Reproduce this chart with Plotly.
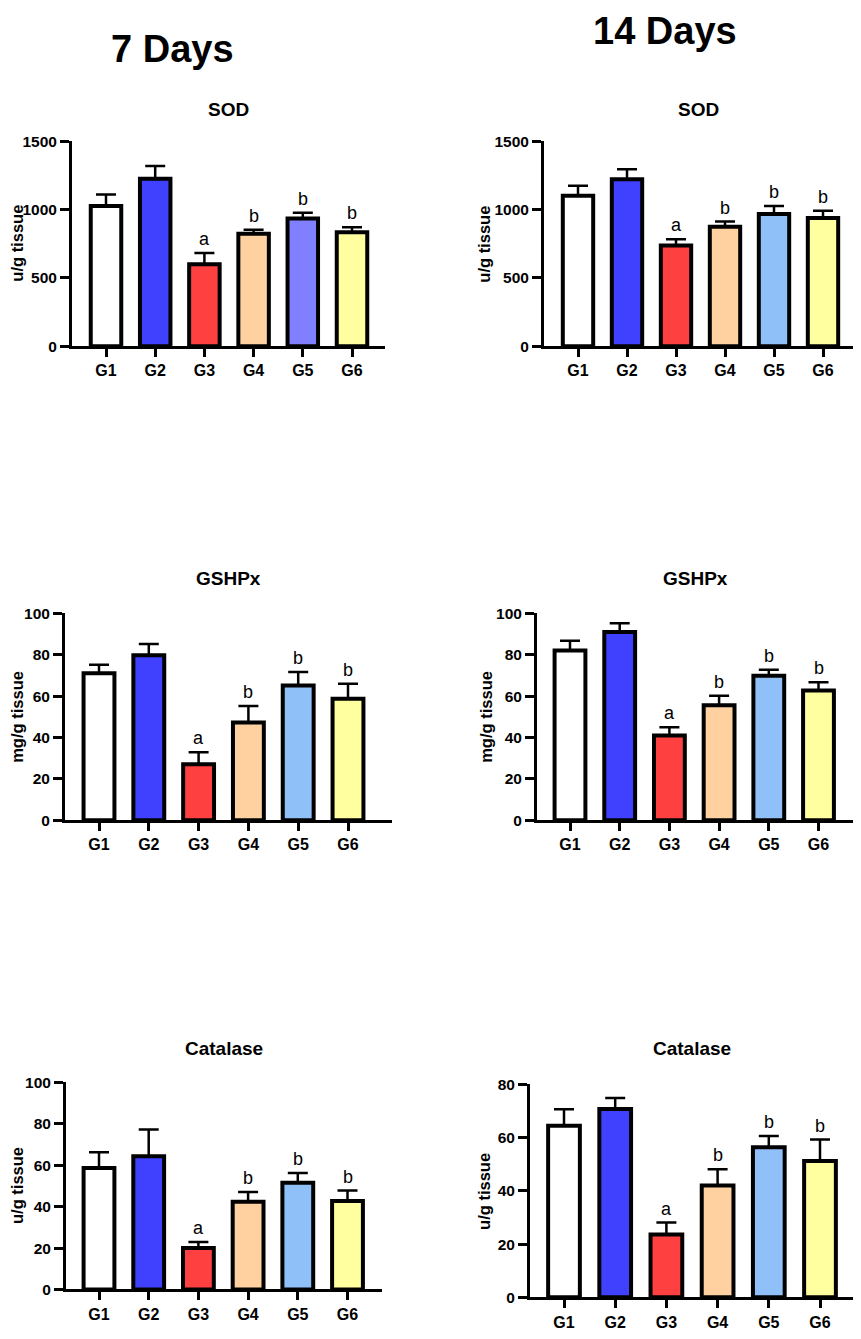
import plotly.graph_objects as go

# page body keeps its 8px margin, so the figure is 16px smaller than the window
PAD = 8
W, H = 861 - 2 * PAD, 1339 - 2 * PAD

groups = ["G1", "G2", "G3", "G4", "G5", "G6"]
letters = ["", "", "a", "b", "b", "b"]

# means and upper SEM
sod_7 = [1025, 1225, 600, 822, 934, 833]
sod_7_err = [85, 93, 82, 30, 43, 38]
sod_14 = [1100, 1222, 737, 874, 968, 938]
sod_14_err = [74, 72, 45, 38, 57, 53]

gsh_7 = [71.0, 79.7, 27.1, 47.3, 65.1, 58.7]
gsh_7_err = [4.1, 5.5, 5.8, 7.9, 6.5, 7.3]
gsh_14 = [82.0, 91.0, 41.0, 55.6, 69.8, 62.7]
gsh_14_err = [4.7, 4.2, 3.9, 4.6, 2.9, 4.0]

cat_7 = [58.7, 64.4, 20.0, 42.4, 51.6, 42.7]
cat_7_err = [7.6, 12.9, 2.9, 4.7, 4.7, 5.1]
cat_14 = [64.5, 70.8, 23.6, 42.0, 56.4, 51.2]
cat_14_err = [6.2, 4.1, 4.5, 6.1, 4.2, 8.1]

sod_ticks = [0, 500, 1000, 1500]
pct_ticks = [0, 20, 40, 60, 80, 100]
cat14_ticks = [0, 20, 40, 60, 80]

base_cols = ["#FFFFFF", "#4040FF", "#FF4040", "#FFD0A0", "#90C0F8", "#FFFFA0"]
sod7_cols = ["#FFFFFF", "#4040FF", "#FF4040", "#FFD0A0", "#8080FF", "#FFFFA0"]

FONT = "Liberation Sans, Arial, sans-serif"


def px(x):
    return (x - PAD) / W


def py(y):
    return 1 - (y - PAD) / H


def label(text, x, y, size, bold=True, angle=0):
    f = dict(family=FONT, size=size, color="black")
    if bold:
        f["weight"] = "bold"
    return dict(text=text, x=px(x), y=py(y), xref="paper", yref="paper",
                xanchor="center", yanchor="middle", textangle=angle,
                showarrow=False, font=f)


# (values, errors, colours, title, ytitle, ymax, ticks,
#  axis px: left, right, top, bottom, first bar centre, bar spacing, title y, ytitle x)
panels = [
    (sod_7, sod_7_err, sod7_cols, "SOD", "u/g tissue", 1500, sod_ticks,
     72, 385, 134, 342, 106, 49.2, 102, 17),
    (sod_14, sod_14_err, base_cols, "SOD", "u/g tissue", 1500, sod_ticks,
     544, 857, 134, 342, 578, 49.0, 102, 484),
    (gsh_7, gsh_7_err, base_cols, "GSHPx", "mg/g tissue", 100, pct_ticks,
     65, 392, 613, 823, 99, 49.8, 578, 17),
    (gsh_14, gsh_14_err, base_cols, "GSHPx", "mg/g tissue", 100, pct_ticks,
     537, 854, 613, 823, 570, 49.7, 578, 486),
    (cat_7, cat_7_err, base_cols, "Catalase", "u/g tissue", 100, pct_ticks,
     66, 382, 1089, 1299, 99, 49.7, 1055, 17),
    (cat_14, cat_14_err, base_cols, "Catalase", "u/g tissue", 80, cat14_ticks,
     530, 855, 1091, 1307, 564, 51.2, 1055, 484),
]

fig = go.Figure()
annotations = []

for i, (vals, errs, cols, title, ytitle, ymax, ticks,
        x0, x1, y0, y1, c0, step, ty, yx) in enumerate(panels):
    n = "" if i == 0 else str(i + 1)
    x1 = min(x1, W + PAD)  # keep the axis inside the figure
    fig.add_trace(go.Bar(
        x=groups, y=vals, xaxis="x" + n, yaxis="y" + n,
        marker=dict(color=cols, line=dict(color="black", width=4)),
        width=0.62,
        error_y=dict(type="data", symmetric=False, array=errs,
                     arrayminus=[0] * len(errs), color="black",
                     thickness=2.5, width=10),
        showlegend=False,
    ))
    ax = dict(
        domain=[px(x0), px(x1)], anchor="y" + n,
        range=[(x0 - c0) / step, (x1 - c0) / step],
        showline=True, linecolor="black", linewidth=3,
        ticks="outside", ticklen=8, tickwidth=2.5, tickcolor="black",
        tickfont=dict(family=FONT, size=16, color="black", weight="bold"),
        showgrid=False, zeroline=False, fixedrange=True,
    )
    ay = dict(
        domain=[py(y1), py(y0)], anchor="x" + n,
        range=[0, ymax], tickvals=ticks,
        showline=True, linecolor="black", linewidth=3,
        ticks="outside", ticklen=9, tickwidth=2.5, tickcolor="black",
        tickfont=dict(family=FONT, size=15.5, color="black", weight="bold"),
        showgrid=False, zeroline=False,
    )
    fig.update_layout(**{"xaxis" + n: ax, "yaxis" + n: ay})

    annotations.append(label(title, (x0 + x1) / 2, ty, 19))
    annotations.append(label(ytitle, yx, (y0 + y1) / 2, 16.5, angle=-90))
    for g, v, e, lab in zip(groups, vals, errs, letters):
        if lab:
            annotations.append(dict(
                text=lab, x=g, y=v + e, xref="x" + n, yref="y" + n,
                showarrow=False, yanchor="bottom", yshift=2,
                font=dict(family=FONT, size=18, color="black"),
            ))

annotations.append(label("7 Days", 172, 40, 38))
annotations.append(label("14 Days", 665, 22, 38))

fig.update_layout(
    width=W, height=H,
    margin=dict(l=0, r=0, t=0, b=0),
    plot_bgcolor="white", paper_bgcolor="white",
    annotations=annotations,
)
fig.write_html("out.html")
